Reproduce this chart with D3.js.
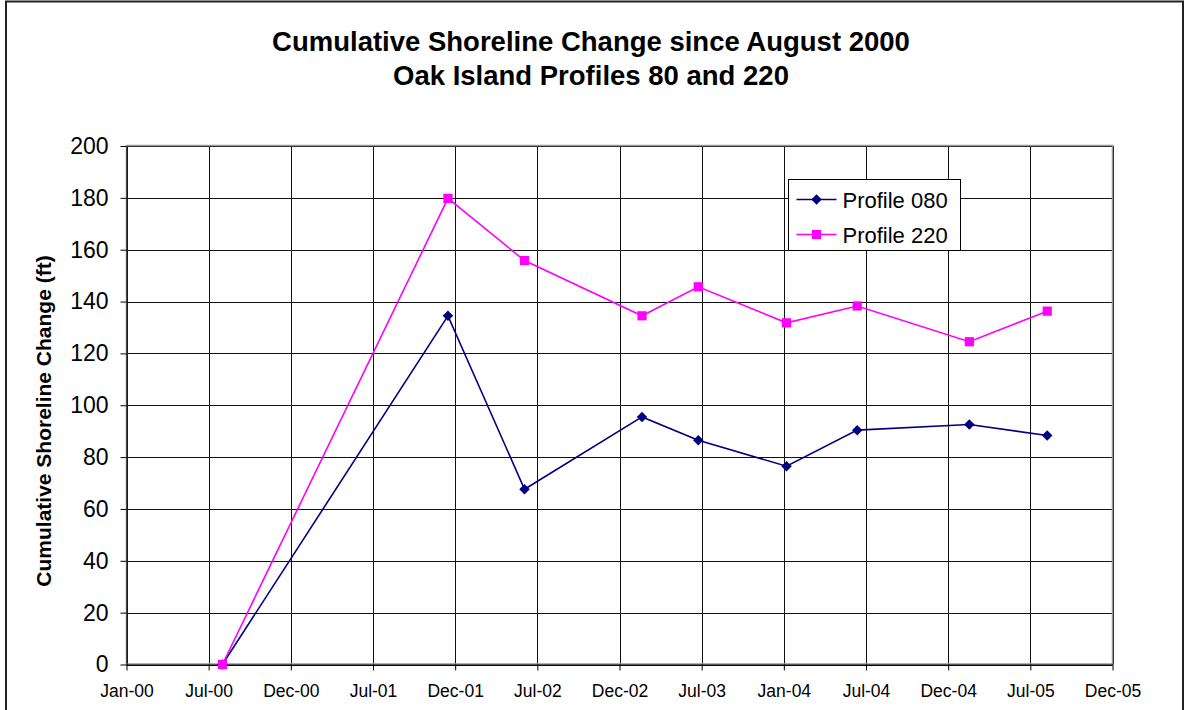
<!DOCTYPE html>
<html>
<head>
<meta charset="utf-8">
<script src="https://cdn.jsdelivr.net/npm/d3@7"></script>
<style>
  body { margin: 0; background: #fff; }
  svg text { font-family: Arial, "Liberation Sans", sans-serif; }
</style>
</head>
<body>
<svg id="chartsvg" width="1188" height="710"></svg>
<script>
var vis = d3.select("#chartsvg");

// survey dates and cumulative change (ft)
const surveyDates = ["2000-08-01", "2001-12-15", "2002-06-03", "2003-02-19", "2003-06-24",
                     "2004-01-06", "2004-06-11", "2005-02-15", "2005-08-07"];
const profile080 = [0, 134.5, 67.6, 95.5, 86.5, 76.5, 90.4, 92.6, 88.3];
const profile220 = [0, 179.8, 155.8, 134.5, 145.7, 131.8, 138.3, 124.5, 136.3];
const seriesNames = ["Profile 080", "Profile 220"];
const xTickLabels = ["Jan-00", "Jul-00", "Dec-00", "Jul-01", "Dec-01", "Jul-02", "Dec-02",
                     "Jul-03", "Jan-04", "Jul-04", "Dec-04", "Jul-05", "Dec-05"];
const yTicks = [0, 20, 40, 60, 80, 100, 120, 140, 160, 180, 200];

const margin = {left: 126.5, top: 146, right: 1112.5, bottom: 664.5};
const origin = new Date(2000, 0, 1);
const dayStep = 182.5; // excel major unit

function dayOf(s) {
    var p = s.split("-");
    return d3.timeDay.count(origin, new Date(+p[0], +p[1] - 1, +p[2]));
}

var x = d3.scaleLinear()
    .domain([0, dayStep * (xTickLabels.length - 1)])
    .range([margin.left, margin.right]);
var y = d3.scaleLinear().domain([0, 200]).range([margin.bottom, margin.top]);

var xTickVals = xTickLabels.map((d, i) => i * dayStep);

// outer chart border
vis.append("rect")
    .attr("x", 6).attr("y", 1.5).attr("width", 1177).attr("height", 730)
    .attr("fill", "none").attr("stroke", "#222").attr("stroke-width", 2);

// title
var title = vis.append("text")
    .attr("x", 591).attr("y", 51)
    .attr("text-anchor", "middle")
    .style("font-size", "27.5px").style("font-weight", "bold");
title.append("tspan").attr("x", 591).text("Cumulative Shoreline Change since August 2000");
title.append("tspan").attr("x", 591).attr("dy", 34).text("Oak Island Profiles 80 and 220");

// gridlines
var grid = vis.append("g").attr("stroke", "#111").attr("stroke-width", 1);
grid.selectAll(".hg").data(yTicks).enter().append("line")
    .attr("x1", margin.left).attr("x2", margin.right)
    .attr("y1", d => Math.round(y(d)) + 0.5).attr("y2", d => Math.round(y(d)) + 0.5);
grid.selectAll(".vg").data(xTickVals).enter().append("line")
    .attr("y1", margin.top).attr("y2", margin.bottom)
    .attr("x1", d => Math.round(x(d)) + 0.5).attr("x2", d => Math.round(x(d)) + 0.5);

// plot area border (grey top / right)
vis.append("rect")
    .attr("x", margin.left).attr("y", margin.top - 0.5)
    .attr("width", margin.right - margin.left).attr("height", margin.bottom - margin.top)
    .attr("fill", "none").attr("stroke", "#999").attr("stroke-width", 1.5);

// axes
var yAxis = d3.axisLeft(y).tickValues(yTicks).tickSize(6).tickPadding(12).tickSizeOuter(0);
var xAxis = d3.axisBottom(x).tickValues(xTickVals).tickSize(6).tickPadding(14).tickSizeOuter(0)
    .tickFormat((d, i) => xTickLabels[i]);

var ya = vis.append("g").attr("transform", "translate(" + margin.left + ",0)").call(yAxis);
ya.selectAll("text").style("font-size", "23px").attr("fill", "#000");
ya.selectAll("line, path").attr("stroke", "#000");

var xa = vis.append("g").attr("transform", "translate(0," + margin.bottom + ")").call(xAxis);
xa.selectAll("text").style("font-size", "17.5px").attr("fill", "#000");
xa.selectAll("line, path").attr("stroke", "#000");

vis.append("text")
    .attr("transform", "translate(51,421) rotate(-90)")
    .attr("text-anchor", "middle")
    .style("font-size", "21px").style("font-weight", "bold")
    .text("Cumulative Shoreline Change (ft)");

// series
var days = surveyDates.map(dayOf);
var series = [
    {name: seriesNames[0], values: profile080, color: "#000080", shape: d3.symbolSquare, size: 55, rot: 45},
    {name: seriesNames[1], values: profile220, color: "#FF00FF", shape: d3.symbolSquare, size: 85, rot: 0}
];

var line = d3.line().x(d => x(d[0])).y(d => y(d[1]));

series.forEach(s => {
    var pts = days.map((d, i) => [d, s.values[i]]);
    vis.append("path").datum(pts)
        .attr("d", line)
        .attr("fill", "none").attr("stroke", s.color).attr("stroke-width", 1.6);
    vis.selectAll(null).data(pts).enter().append("path")
        .attr("transform", d => "translate(" + x(d[0]) + "," + y(d[1]) + ") rotate(" + s.rot + ")")
        .attr("d", d3.symbol().type(s.shape).size(s.size))
        .attr("fill", s.color);
});

// legend
var legend = vis.append("g").attr("transform", "translate(788.5,179.5)");
legend.append("rect").attr("width", 172).attr("height", 71)
    .attr("fill", "#fff").attr("stroke", "#000").attr("stroke-width", 1);
series.forEach((s, i) => {
    var ly = 20 + i * 35;
    legend.append("line").attr("x1", 8).attr("x2", 48).attr("y1", ly).attr("y2", ly)
        .attr("stroke", s.color).attr("stroke-width", 1.6);
    legend.append("path").attr("transform", "translate(28," + ly + ") rotate(" + s.rot + ")")
        .attr("d", d3.symbol().type(s.shape).size(s.size)).attr("fill", s.color);
    legend.append("text").attr("x", 54).attr("y", ly + 8)
        .style("font-size", "22px").text(s.name);
});
</script>
</body>
</html>
